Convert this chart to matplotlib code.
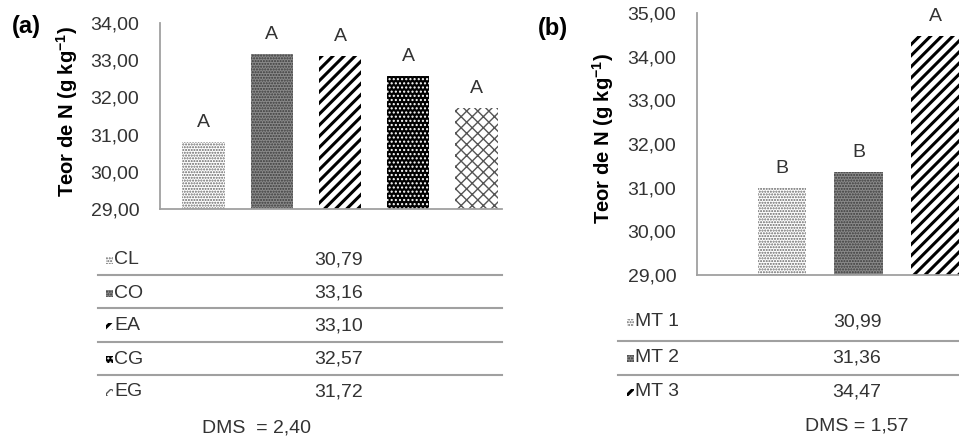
import matplotlib
matplotlib.use("Agg")
import matplotlib.pyplot as plt
from matplotlib.ticker import FuncFormatter, MultipleLocator
from matplotlib.patches import Rectangle
from matplotlib.lines import Line2D

plt.rcParams.update({
    "font.family": ["Liberation Sans", "DejaVu Sans"],
    "mathtext.fontset": "custom",
    "mathtext.rm": "Liberation Sans",
    "mathtext.bf": "Liberation Sans:bold",
})

# dados (a) - tratamentos
trat_a = ["CL", "CO", "EA", "CG", "EG"]
teor_a = [30.79, 33.16, 33.10, 32.57, 31.72]
letras_a = ["A", "A", "A", "A", "A"]
dms_a = 2.40

# dados (b) - MT
trat_b = ["MT 1", "MT 2", "MT 3"]
teor_b = [30.99, 31.36, 34.47]
letras_b = ["B", "B", "A"]
dms_b = 1.57

# estilos de preenchimento (face, hachura, cor da hachura)
ESTILO = {
    "CL": ("white", "......", "#666666"),
    "CO": ("#8a8a8a", "......", "#3a3a3a"),
    "EA": ("white", "///", "black"),
    "CG": ("black", "....", "white"),
    "EG": ("white", "xxx", "#555555"),
}
ESTILO["MT 1"] = ESTILO["CL"]
ESTILO["MT 2"] = ESTILO["CO"]
ESTILO["MT 3"] = ESTILO["EA"]

W, H = 959, 441
GRID = "#a0a0a0"
TXT = "#333333"


def virgula(v, pos=None):
    return f"{v:.2f}".replace(".", ",")


def fx(px):
    return px / W


def fy(py):
    return 1 - py / H


def listra_grossa(patch, t):
    if t in ("EA", "MT 3"):
        try:
            patch.set_hatch_linewidth(2.2)
        except AttributeError:
            pass


def painel(rect, trat, teor, letras, xlim, ylim, largura):
    ax = fig.add_axes(rect)
    x = list(range(len(trat)))
    for i, t in enumerate(trat):
        fc, hatch, hc = ESTILO[t]
        b = ax.bar(x[i], teor[i] - ylim[0], largura, bottom=ylim[0],
                   color=fc, hatch=hatch, edgecolor=hc, linewidth=0)[0]
        listra_grossa(b, t)
        ax.annotate(letras[i], (x[i], teor[i]), xytext=(0, 8),
                    textcoords="offset points", ha="center", va="bottom",
                    fontsize=14, color=TXT)
    ax.set_xlim(*xlim)
    ax.set_ylim(*ylim)
    ax.yaxis.set_major_locator(MultipleLocator(1))
    ax.yaxis.set_major_formatter(FuncFormatter(virgula))
    ax.tick_params(axis="y", length=0, pad=15, labelsize=14, labelcolor=TXT)
    ax.set_xticks([])
    for s in ("top", "right"):
        ax.spines[s].set_visible(False)
    for s in ("left", "bottom"):
        ax.spines[s].set_color(GRID)
        ax.spines[s].set_linewidth(1.3)
    return ax


def tabela(trat, teor, linhas_y, sep_y, x0, x1, xmark, xval, dms_txt, ydms, xdms):
    for t, v, yy in zip(trat, teor, linhas_y):
        fc, hatch, hc = ESTILO[t]
        r = Rectangle((fx(xmark), fy(yy + 4)), fx(7), 7 / H,
                      transform=fig.transFigure, facecolor=fc,
                      hatch=hatch, edgecolor=hc, linewidth=0)
        listra_grossa(r, t)
        fig.add_artist(r)
        fig.text(fx(xmark + 8), fy(yy), t, ha="left", va="center",
                 fontsize=14, color=TXT)
        fig.text(fx(xval), fy(yy), virgula(v), ha="center", va="center",
                 fontsize=14, color=TXT)
    for yy in sep_y:
        fig.add_artist(Line2D([fx(x0), fx(x1)], [fy(yy), fy(yy)],
                              transform=fig.transFigure, color=GRID, lw=1.5))
    fig.text(fx(xdms), fy(ydms), dms_txt, ha="center", va="center",
             fontsize=14, color=TXT)


fig = plt.figure(figsize=(W / 100, H / 100), dpi=100)

ylab = r"Teor de N (g kg$^{\mathbf{-1}}$)"

# painel (a)
painel([fx(160), fy(209), fx(342), 186 / H], trat_a, teor_a, letras_a,
       (-0.637, 4.374), (29, 34), 0.62)
fig.text(fx(67), fy(111), ylab, rotation=90, ha="center", va="center",
         fontsize=14.5, fontweight="bold")
fig.text(fx(26), fy(27), "(a)", ha="center", va="center",
         fontsize=17, fontweight="bold")
tabela(trat_a, teor_a, [260, 293, 326, 359, 392], [275, 308, 342, 375],
       98, 502, 106, 339, "DMS  = " + virgula(dms_a), 428, 257)

# painel (b)
painel([fx(697), fy(275), fx(323), 262 / H], trat_b, teor_b, letras_b,
       (-1.11, 3.11), (29, 35), 0.63)
fig.text(fx(603), fy(138), ylab, rotation=90, ha="center", va="center",
         fontsize=14.5, fontweight="bold")
fig.text(fx(553), fy(28), "(b)", ha="center", va="center",
         fontsize=17, fontweight="bold")
tabela(trat_b, teor_b, [322, 358, 392], [341, 375],
       618, 980, 627, 857, "DMS = " + virgula(dms_b), 426, 857)

fig.savefig("out.png", dpi=100)
